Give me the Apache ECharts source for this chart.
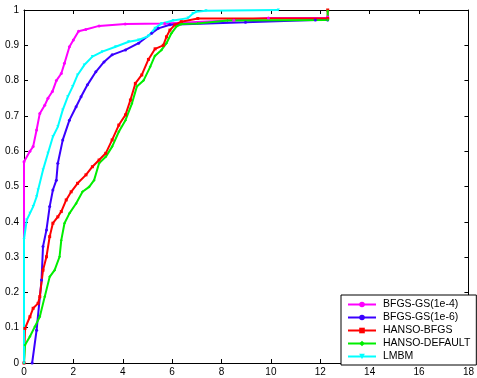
<!DOCTYPE html>
<html>
<head>
<meta charset="utf-8">
<script src="https://cdn.jsdelivr.net/npm/echarts@6/dist/echarts.min.js"></script>
<style>
  html, body { margin: 0; padding: 0; background: #fff; }
  #chart { width: 477px; height: 378px; }
</style>
</head>
<body>
<div id="chart"></div>
<script>
// series names
var names = ['BFGS-GS(1e-4)', 'BFGS-GS(1e-6)', 'HANSO-BFGS', 'HANSO-DEFAULT', 'LMBM'];

// performance profile points [tau, fraction]
var bfgs4 = [
  [0, 0], [0, 0.57], [0.24, 0.6], [0.37, 0.613], [0.51, 0.66], [0.64, 0.707], [0.84, 0.73],
  [0.97, 0.75], [1.15, 0.769], [1.31, 0.8], [1.51, 0.82], [1.64, 0.849], [1.84, 0.896],
  [2.0, 0.915], [2.21, 0.94], [2.5, 0.945], [3.04, 0.955], [4.1, 0.96], [5.7, 0.962],
  [8.5, 0.971], [9.9, 0.977], [12.3, 0.977], [12.3, 0.98]
];
var bfgs6 = [
  [0.33, 0], [0.51, 0.093], [0.71, 0.235], [0.77, 0.33], [0.91, 0.377], [1.04, 0.443],
  [1.17, 0.49], [1.31, 0.518], [1.37, 0.566], [1.57, 0.632], [1.84, 0.688], [2.11, 0.726],
  [2.31, 0.754], [2.57, 0.788], [2.91, 0.825], [3.24, 0.853], [3.57, 0.873], [4.11, 0.887],
  [4.64, 0.906], [5.17, 0.934], [5.44, 0.948], [5.91, 0.958], [8.97, 0.965], [11.8, 0.972],
  [12.3, 0.972], [12.3, 0.975]
];
var hansoBfgs = [
  [0, 0], [0.04, 0.098], [0.24, 0.131], [0.37, 0.155], [0.57, 0.169], [0.64, 0.188],
  [0.77, 0.263], [0.91, 0.301], [1.04, 0.358], [1.17, 0.396], [1.37, 0.414], [1.51, 0.429],
  [1.71, 0.462], [1.91, 0.485], [2.17, 0.509], [2.51, 0.533], [2.77, 0.556], [3.04, 0.575],
  [3.31, 0.594], [3.57, 0.632], [3.84, 0.674], [4.11, 0.703], [4.31, 0.745], [4.51, 0.792],
  [4.77, 0.816], [5.04, 0.86], [5.31, 0.89], [5.64, 0.9], [5.77, 0.924], [5.91, 0.943],
  [6.11, 0.958], [6.37, 0.967], [7.04, 0.976], [12.3, 0.976], [12.3, 1.0]
];
var hansoDefault = [
  [0, 0], [0.04, 0.051], [0.24, 0.075], [0.44, 0.103], [0.64, 0.131], [0.84, 0.188],
  [1.04, 0.244], [1.24, 0.263], [1.44, 0.301], [1.51, 0.348], [1.64, 0.396], [1.84, 0.424],
  [2.11, 0.452], [2.37, 0.485], [2.64, 0.499], [2.84, 0.518], [3.04, 0.566], [3.31, 0.584],
  [3.57, 0.613], [3.84, 0.655], [4.11, 0.688], [4.37, 0.735], [4.57, 0.783], [4.84, 0.8],
  [5.11, 0.839], [5.3, 0.87], [5.57, 0.887], [5.77, 0.906], [5.97, 0.934], [6.17, 0.953],
  [6.37, 0.96], [7.04, 0.962], [8.24, 0.97], [12.3, 0.972], [12.3, 0.997]
];
var lmbm = [
  [0, 0], [0, 0.35], [0.11, 0.405], [0.24, 0.424], [0.37, 0.443], [0.51, 0.471],
  [0.57, 0.49], [0.77, 0.547], [0.97, 0.594], [1.17, 0.641], [1.37, 0.669], [1.57, 0.717],
  [1.77, 0.754], [1.97, 0.783], [2.17, 0.816], [2.44, 0.844], [2.77, 0.868], [3.17, 0.882],
  [3.71, 0.896], [4.24, 0.91], [4.64, 0.915], [5.04, 0.926], [5.3, 0.948], [5.57, 0.962],
  [6.04, 0.97], [6.64, 0.977], [6.84, 0.99], [6.97, 0.995], [7.37, 0.998], [10.3, 1.0]
];

var colors = ['#ff00ff', '#3a00ff', '#ff0000', '#00ee00', '#00ffff'];
var symbols = ['circle', 'circle', 'rect', 'diamond', 'triangle'];
var datasets = [bfgs4, bfgs6, hansoBfgs, hansoDefault, lmbm];

var chart = echarts.init(document.getElementById('chart'), null, { renderer: 'canvas' });

var axisFont = { color: '#000', fontSize: 10, fontFamily: 'Liberation Sans, Arial, sans-serif' };

var series = names.map(function (n, i) {
  return {
    name: n,
    type: 'line',
    data: datasets[i],
    symbol: symbols[i],
    symbolRotate: symbols[i] === 'triangle' ? 180 : 0,
    symbolSize: 3,
    showSymbol: true,
    lineStyle: { color: colors[i], width: 2 },
    itemStyle: { color: colors[i], borderWidth: 0 },
    animation: false
  };
});

var option = {
  backgroundColor: '#fff',
  animation: false,
  grid: { left: 24, right: 3, top: 10, bottom: 15, containLabel: false },
  xAxis: [{
    type: 'value', min: 0, max: 18, interval: 2, position: 'bottom',
    axisLine: { show: true, onZero: false, lineStyle: { color: '#000', width: 1 } },
    axisTick: { show: true, inside: true, length: 4, lineStyle: { color: '#000' } },
    axisLabel: Object.assign({ margin: 4 }, axisFont),
    splitLine: { show: false }
  }, {
    type: 'value', min: 0, max: 18, interval: 2, position: 'top',
    axisLine: { show: true, onZero: false, lineStyle: { color: '#000', width: 1 } },
    axisTick: { show: true, inside: true, length: 4, lineStyle: { color: '#000' } },
    axisLabel: { show: false },
    splitLine: { show: false }
  }],
  yAxis: [{
    type: 'value', min: 0, max: 1, interval: 0.1, position: 'left',
    axisLine: { show: true, onZero: false, lineStyle: { color: '#000', width: 1 } },
    axisTick: { show: true, inside: true, length: 4, lineStyle: { color: '#000' } },
    axisLabel: Object.assign({ margin: 5, formatter: function (v) { return String(+v.toFixed(1)); } }, axisFont),
    splitLine: { show: false }
  }, {
    type: 'value', min: 0, max: 1, interval: 0.1, position: 'right',
    axisLine: { show: true, onZero: false, lineStyle: { color: '#000', width: 1 } },
    axisTick: { show: true, inside: true, length: 4, lineStyle: { color: '#000' } },
    axisLabel: { show: false },
    splitLine: { show: false }
  }],
  legend: {
    data: names,
    orient: 'vertical',
    left: 341,
    top: 295,
    padding: [4, 6, 3, 6],
    itemGap: 2,
    itemWidth: 28,
    itemHeight: 7,
    borderColor: '#000',
    borderWidth: 1,
    backgroundColor: '#fff',
    textStyle: { color: '#000', fontSize: 10.5, fontFamily: 'Liberation Sans, Arial, sans-serif', padding: [0, 0, 0, 2] }
  },
  series: series
};

chart.setOption(option);
</script>
</body>
</html>
